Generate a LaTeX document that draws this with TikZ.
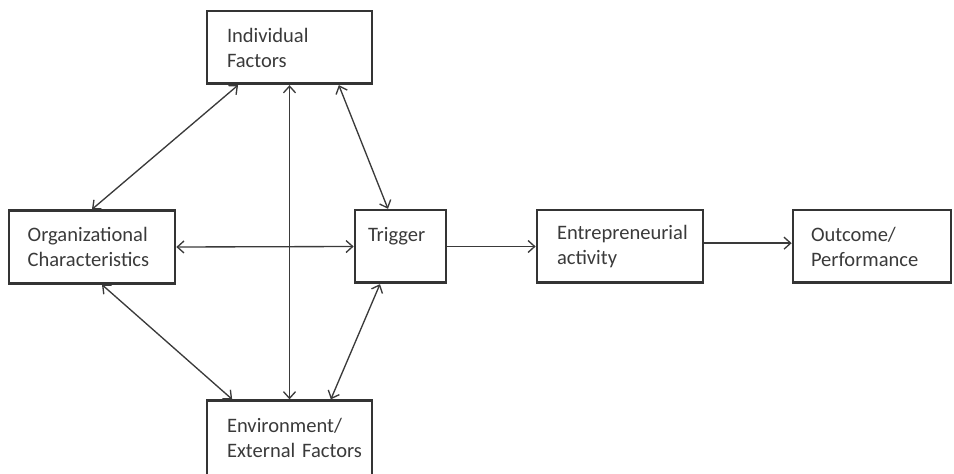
\documentclass[tikz,border=0pt]{standalone}
\usepackage{fontspec}
\setmainfont{Carlito}
\usetikzlibrary{arrows.meta}
\definecolor{ink}{HTML}{3A3A3A}
\tikzset{
  box/.style={draw=ink!90!black, line width=2pt, text=ink, align=left,
    inner ysep=0pt, minimum height=54.5pt,
    font=\fontsize{15.4}{18.75}\selectfont},
  link/.style={draw=ink, line width=1pt, >={Straight Barb[length=5pt,width=9pt]}}
}
\begin{document}
\begin{tikzpicture}[x=0.75pt, y=-0.75pt]
  \useasboundingbox (0,0) rectangle (954,474);
  \node[box, text width=93.75pt, inner xsep=15pt] (ind) at (289.5,47.5) {Individual\\Factors};
  \node[box, text width=96.5pt, inner xsep=14pt] (org) at (92,247) {Organizational\\Characteristics};
  \node[box, text width=48.75pt, inner xsep=9.75pt] (trig) at (400.5,246.5) {Trigger\\\mbox{}};
  \node[box, text width=94.5pt, inner xsep=15pt] (ent) at (620,246.5) {Entrepreneurial\\activity};
  \node[box, text width=91.5pt, inner xsep=13.5pt] (out) at (872,246.5) {Outcome/\\Performance};
  \node[box, text width=93.75pt, inner xsep=15pt, minimum height=56pt] (env) at (289.5,438) {Environment/\\\mbox{External Factors}};
  % two-way links
  \draw [link, <->] (org.north) -- ([xshift=-38.6pt]ind.south);
  \draw [link, <->] (ind.south) -- (env.north);
  \draw [link, <->] ([xshift=37pt]ind.south) -- ([xshift=-9.4pt]trig.north);
  \draw [link, <->] (org.east) -- (trig.west);
  \draw [link, <->] ([xshift=7.5pt]org.south) -- ([xshift=-43pt]env.north);
  \draw [link, <->] ([xshift=-15.4pt]trig.south) -- ([xshift=31pt]env.north);
  % flow
  \draw [link, ->] (trig.east) -- (ent.west);
  \draw [link, ->] ([yshift=2.5pt]ent.east) -- ([yshift=2.5pt]out.west);
\end{tikzpicture}
\end{document}
